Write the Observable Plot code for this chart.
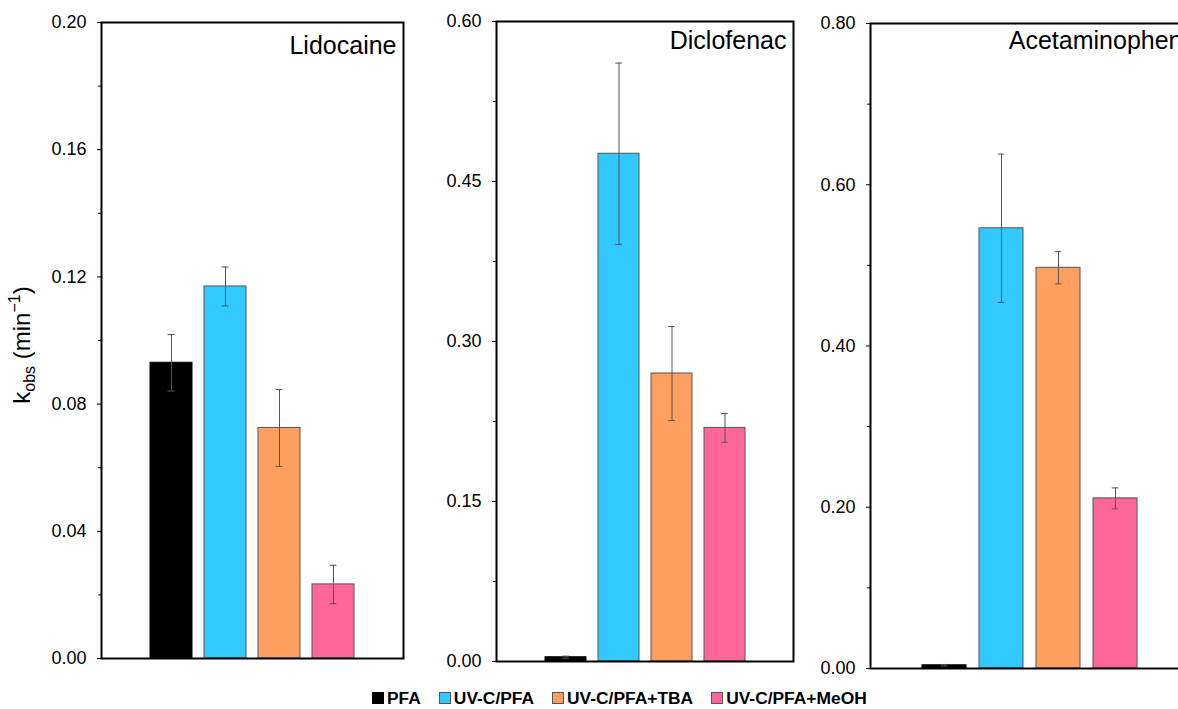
<!DOCTYPE html>
<html>
<head>
<meta charset="utf-8">
<script src="https://cdn.jsdelivr.net/npm/d3@7"></script>
<script src="https://cdn.jsdelivr.net/npm/@observablehq/plot@0.6"></script>
<style>
  html, body { margin: 0; padding: 0; background: #fff; overflow: hidden; }
  #wrap { position: relative; width: 1178px; height: 709px; overflow: hidden; font-family: "Liberation Sans", Arial, sans-serif; }
  .panel { position: absolute; top: 0; }
  .panel svg { max-width: none !important; display: block; }
  #ylabel { position: absolute; left: 22px; top: 345px; transform: translate(-50%, -50%) rotate(-90deg); font-size: 24px; white-space: nowrap; color: #000; }
  #ylabel sub { font-size: 16px; vertical-align: -5px; line-height: 0; }
  #ylabel sup { font-size: 16px; vertical-align: 10px; line-height: 0; }
  #legend { position: absolute; left: 372px; top: 689px; display: flex; align-items: center; gap: 18px; font-size: 17.4px; line-height: 18px; font-weight: bold; color: #000; }
  #legend .item { display: flex; align-items: center; }
  #legend .sw { width: 10px; height: 10px; border: 1px solid #555; margin-right: 3px; box-sizing: content-box; }
</style>
</head>
<body>
<div id="wrap">
  <div id="ylabel">k<sub>obs</sub> (min<sup>−1</sup>)</div>
  <div id="legend"></div>
</div>
<script>
// ---- data ----
const categories = ["PFA", "UV-C/PFA", "UV-C/PFA+TBA", "UV-C/PFA+MeOH"];
const colors = ["#000000", "#31C9FF", "#FFA060", "#FF6699"];

const panelTitles = ["Lidocaine", "Diclofenac", "Acetaminophen"];

const lidocaineK = [0.093, 0.117, 0.0725, 0.0233];
const lidocaineErr = [0.0089, 0.0061, 0.0121, 0.006];

const diclofenacK = [0.004, 0.476, 0.270, 0.219];
const diclofenacErr = [0.001, 0.085, 0.044, 0.0135];

const acetaminophenK = [0.004, 0.546, 0.497, 0.211];
const acetaminophenErr = [0.001, 0.092, 0.020, 0.013];

const lidocaineTicks = [0, 0.04, 0.08, 0.12, 0.16, 0.20];
const diclofenacTicks = [0, 0.15, 0.30, 0.45, 0.60];
const acetaminophenTicks = [0, 0.20, 0.40, 0.60, 0.80];

// ---- layout per panel ----
const panels = [
  {title: panelTitles[0], k: lidocaineK, err: lidocaineErr, ticks: lidocaineTicks, left: 101, frameW: 302, top: 22, bottom: 658, titleDy: 14},
  {title: panelTitles[1], k: diclofenacK, err: diclofenacErr, ticks: diclofenacTicks, left: 496, frameW: 297, top: 21, bottom: 661, titleDy: 10},
  {title: panelTitles[2], k: acetaminophenK, err: acetaminophenErr, ticks: acetaminophenTicks, left: 870, frameW: 319, top: 23, bottom: 668, titleDy: 8}
];

const H = 680, ML = 60, MR = 10;
const wrap = document.getElementById("wrap");

panels.forEach(p => {
  const rows = categories.map((c, i) => ({cat: c, k: p.k[i], lo: p.k[i] - p.err[i], hi: p.k[i] + p.err[i], color: colors[i]}));
  const maxY = p.ticks[p.ticks.length - 1];
  const step = p.ticks[1] - p.ticks[0];
  const minor = p.ticks.slice(0, -1).map(t => t + step / 2);
  const width = ML + p.frameW + MR;
  const pInner = 0.23, pOuter = 0.875;
  const bandStep = p.frameW / (categories.length - pInner + 2 * pOuter);
  const bw = bandStep * (1 - pInner);
  const capInset = (bw - 7) / 2;

  const chart = Plot.plot({
    width, height: H,
    marginLeft: ML, marginRight: MR, marginTop: p.top, marginBottom: H - p.bottom,
    style: {fontFamily: "Liberation Sans, Arial, sans-serif", fontSize: "18px", color: "#000", background: "transparent", overflow: "visible", maxWidth: "none"},
    x: {domain: categories, paddingInner: pInner, paddingOuter: pOuter, axis: null},
    y: {domain: [0, maxY], axis: null},
    marks: [
      Plot.barY(rows, {x: "cat", y: "k", fill: "color", stroke: d => d.cat === "PFA" ? "#000" : "#555", strokeWidth: 1}),
      Plot.ruleX(rows, {x: "cat", y1: "lo", y2: "hi", stroke: "#555", strokeWidth: 1}),
      Plot.tickY(rows, {x: "cat", y: "lo", stroke: "#555", strokeWidth: 1, insetLeft: capInset, insetRight: capInset}),
      Plot.tickY(rows, {x: "cat", y: "hi", stroke: "#555", strokeWidth: 1, insetLeft: capInset, insetRight: capInset}),
      Plot.axisY({ticks: p.ticks, tickSize: 4, tickPadding: 11, tickFormat: d3.format(".2f"), label: null, fontSize: 18}),
      Plot.axisY({ticks: minor, tickSize: 3, tickFormat: null, text: null, label: null}),
      Plot.frame({stroke: "#000", strokeWidth: 2}),
      Plot.text([p.title], {frameAnchor: "top-right", textAnchor: "end", lineAnchor: "top", dx: -7, dy: p.titleDy, fontSize: 25, fill: "#000"})
    ]
  });
  const div = document.createElement("div");
  div.className = "panel";
  div.style.left = (p.left - ML) + "px";
  div.style.width = width + "px";
  div.style.height = H + "px";
  div.appendChild(chart);
  wrap.appendChild(div);
});

// ---- legend ----
const legend = document.getElementById("legend");
categories.forEach((c, i) => {
  const item = document.createElement("div");
  item.className = "item";
  const sw = document.createElement("span");
  sw.className = "sw";
  sw.style.background = colors[i];
  if (i === 0) sw.style.borderColor = "#000";
  const t = document.createElement("span");
  t.textContent = c;
  item.appendChild(sw);
  item.appendChild(t);
  legend.appendChild(item);
});
</script>
</body>
</html>
